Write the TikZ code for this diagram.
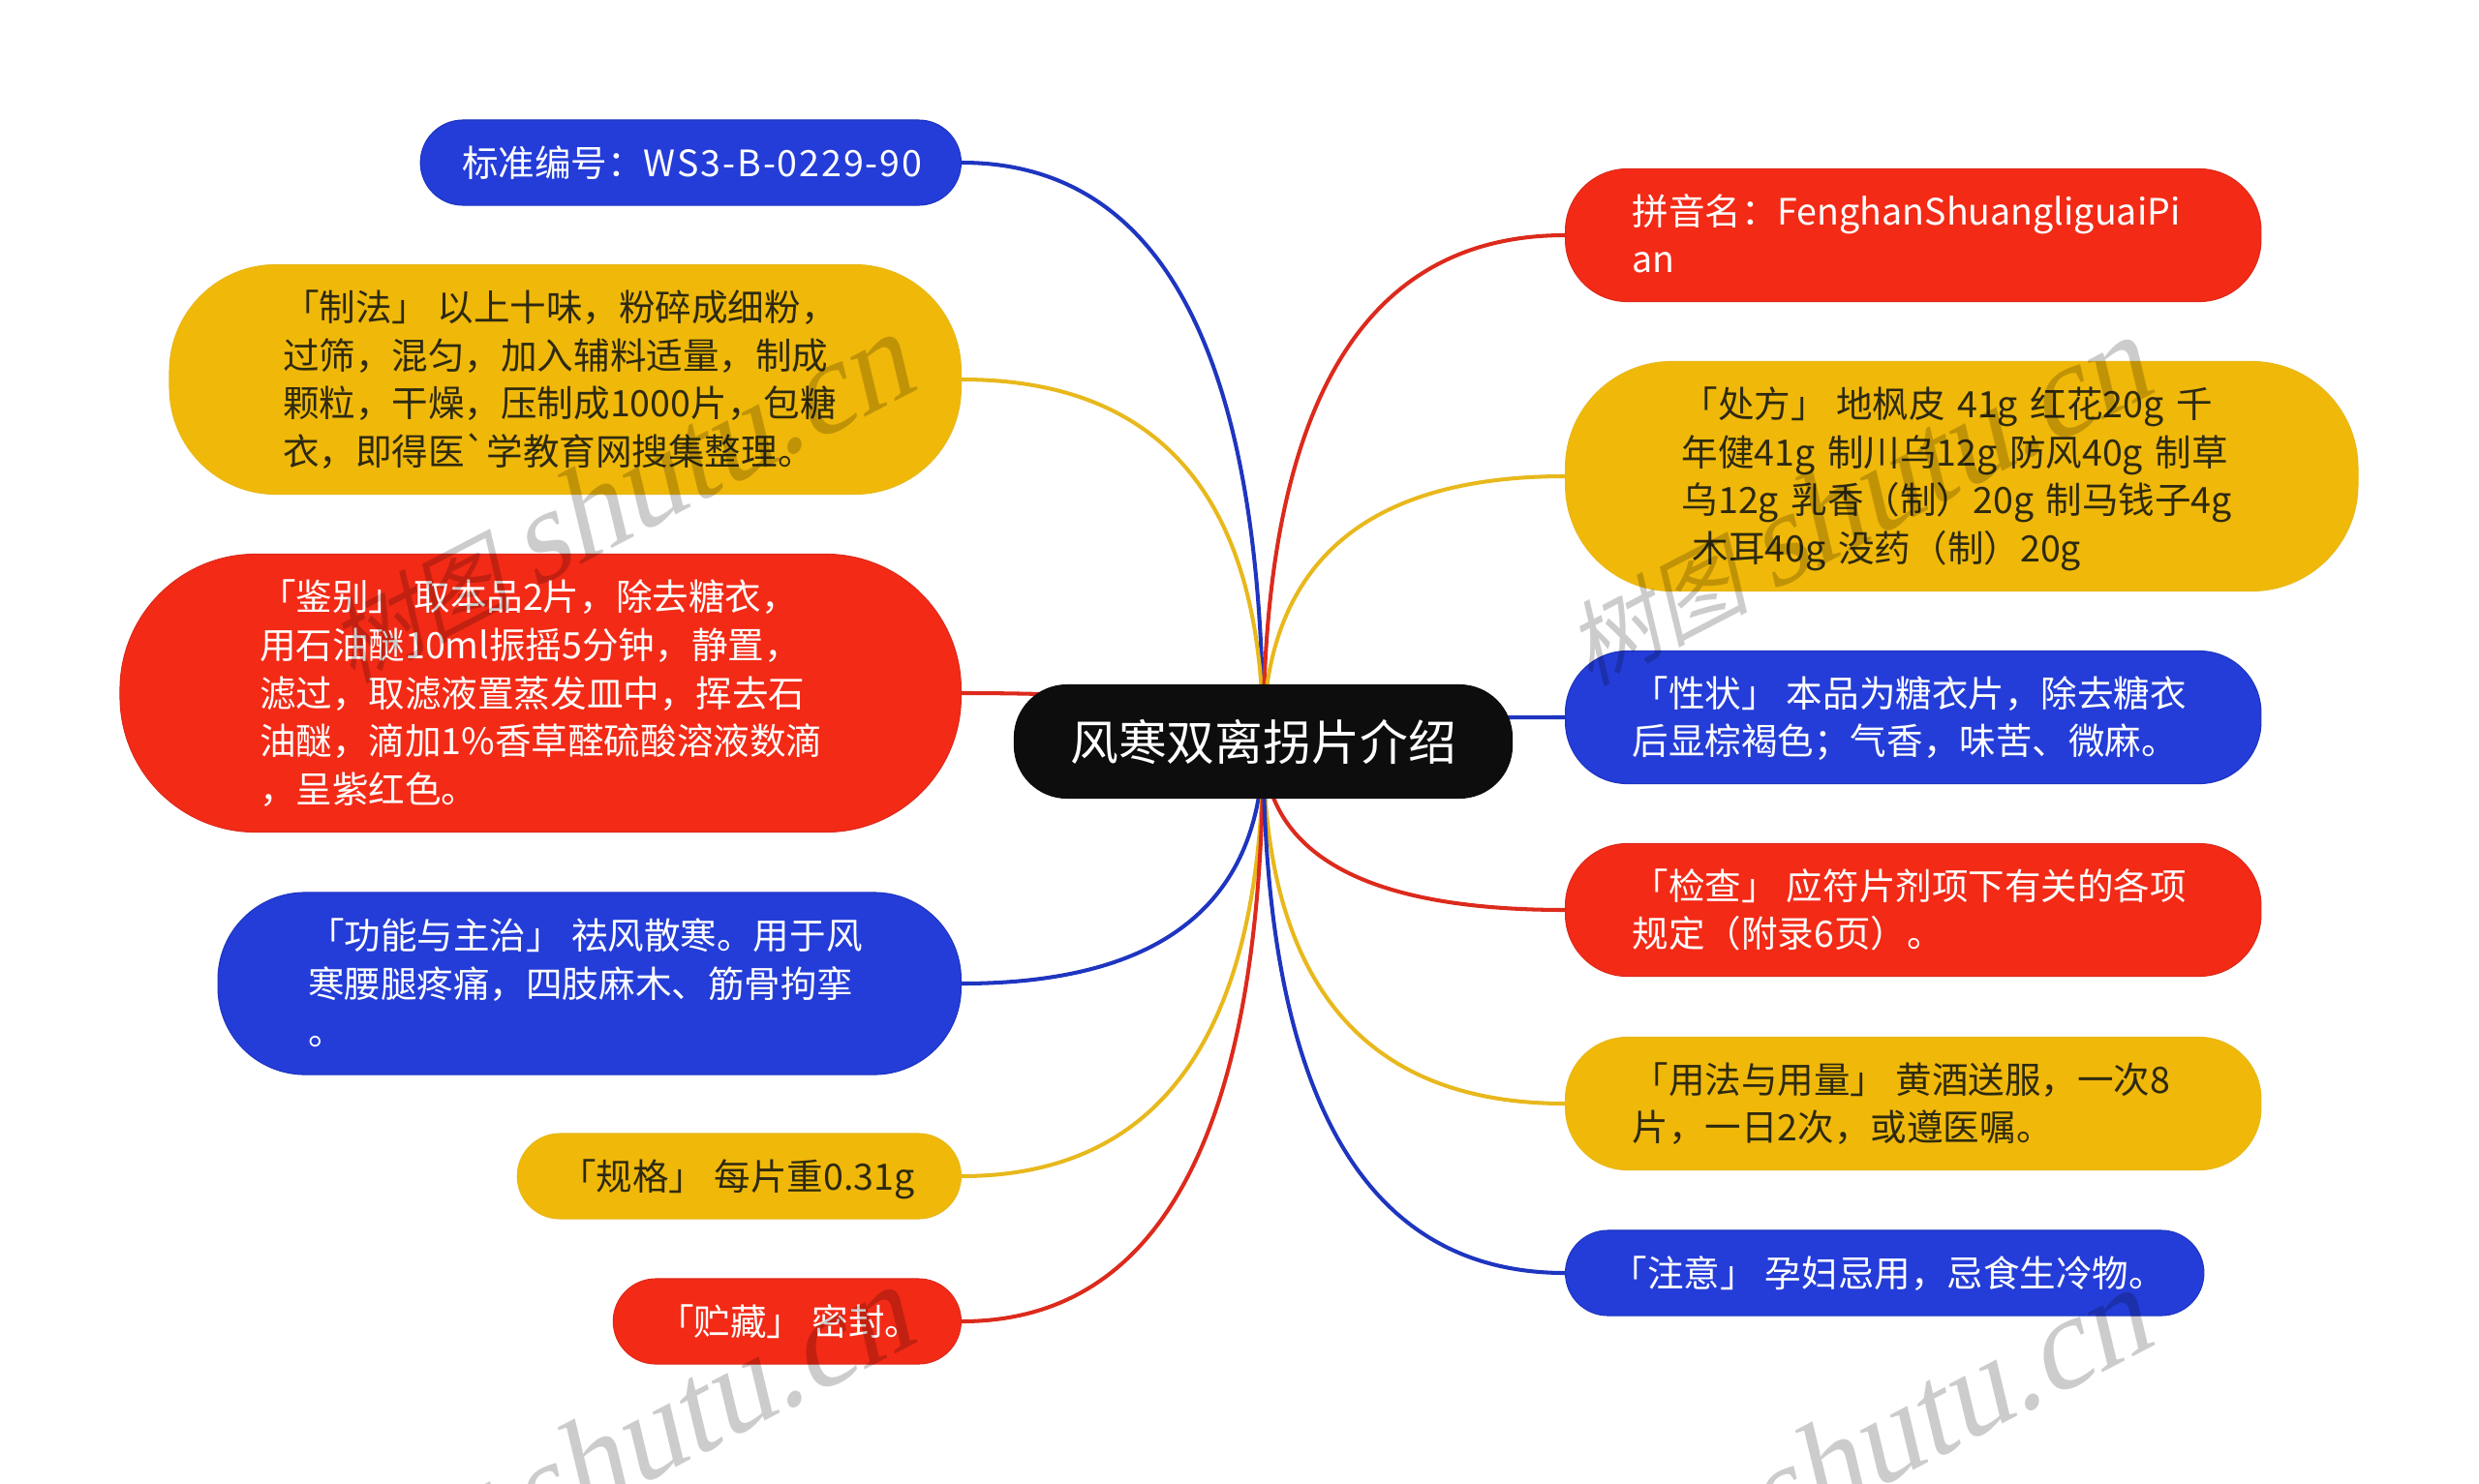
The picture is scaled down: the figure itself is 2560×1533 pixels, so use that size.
\documentclass[tikz,border=0pt]{standalone}
\usepackage{fontspec}
\setmainfont{Noto Sans CJK SC}[Ligatures=TeXOff]
\newfontfamily\markfont{Liberation Serif}
\usetikzlibrary{calc,backgrounds}
\definecolor{mapblue}{HTML}{243DD8}
\definecolor{mapred}{HTML}{F32A16}
\definecolor{mapyellow}{HTML}{F0B809}
\definecolor{mapblack}{HTML}{0D0D0D}
\definecolor{mapink}{HTML}{2E2A10}
\definecolor{lineblue}{HTML}{1E35C0}
\definecolor{linered}{HTML}{DC2A1C}
\definecolor{lineyellow}{HTML}{E8B81C}
\newcommand{\tagsep}{\hspace{0.245em}}
\newcommand{\linestrut}{\rule[-3.05pt]{0pt}{14.1pt}}
\tikzset{
  leaf/.style n args={4}{rounded corners=#3*1cm, minimum width=#1*1cm, minimum height=#2*1cm,
    inner xsep=#4*1cm, inner ysep=0pt, text width=(#1-2*#4)*1cm, align=left,
    font=\fontsize{10.68}{14.1}\selectfont,
    execute at begin node=\leavevmode\linestrut, execute at end node=\linestrut},
  blueleaf/.style={fill=mapblue, draw=lineblue, line width=0.3pt, text=white},
  redleaf/.style={fill=mapred, draw=linered, line width=0.3pt, text=white},
  yellowleaf/.style={fill=mapyellow, draw=lineyellow, line width=0.3pt, text=mapink},
  branch/.style={line width=1.15pt},
  markword/.style={text=black, text opacity=0.2, rotate=27.5, xslant=0.25, anchor=base east, inner sep=0pt}
}
\begin{document}
\begin{tikzpicture}[x=0.01cm,y=-0.01cm]
\useasboundingbox (0,0) rectangle (2560,1533);

% Center pill
\node[fill=mapblack, text=white, rounded corners=0.55cm, minimum width=5.15cm, minimum height=1.18cm,
  font=\fontsize{14.17}{17}\selectfont] (root) at (1304.5,766) {风寒双离拐片介绍};

% Left column
\node[leaf={5.58}{0.88}{0.44}{0.43}, blueleaf, anchor=east] (biaozhun) at (993,168)
  {\mbox{标准编号：\addfontfeature{LetterSpace=5}WS3-B-0229-90}};
\node[leaf={8.17}{2.37}{1.10}{1.17}, yellowleaf, anchor=east] (zhifa) at (993,392)
  {「制法」\tagsep 以上十味，粉碎成细粉，\\过筛，混匀，加入辅料适量，制成\\颗粒，干燥，压制成1000片，包糖\\衣，即得医`学教育网搜集整理。};
\node[leaf={8.68}{2.87}{1.40}{1.44}, redleaf, anchor=east] (jianbie) at (993,716)
  {「鉴别」\tagsep 取本品2片，除去糖衣，\\用石油醚10ml振摇5分钟，静置，\\滤过，取滤液置蒸发皿中，挥去石\\油醚，滴加1\%香草醛硫酸溶液数滴\\，呈紫红色。};
\node[leaf={7.67}{1.88}{0.90}{0.93}, blueleaf, anchor=east] (gongneng) at (993,1016)
  {「功能与主治」\tagsep 祛风散寒。用于风\\寒腰腿疼痛，四肢麻木、筋骨拘挛\\。};
\node[leaf={4.58}{0.88}{0.44}{0.44}, yellowleaf, anchor=east] (guige) at (993,1215)
  {\mbox{「规格」\tagsep 每片重0.31g}};
\node[leaf={3.59}{0.88}{0.44}{0.46}, redleaf, anchor=east] (zhucang) at (993,1365)
  {\mbox{「贮藏」\tagsep 密封。}};

% Right column
\node[leaf={7.18}{1.37}{0.64}{0.69}, redleaf, anchor=west] (pinyin) at (1616,243)
  {\mbox{拼音名：FenghanShuangliguaiPi}\\an};
\node[leaf={8.18}{2.37}{1.10}{1.20}, yellowleaf, anchor=west] (chufang) at (1616,492)
  {\mbox{「处方」\tagsep 地枫皮 41g 红花20g 千}\\\mbox{年健41g 制川乌12g 防风40g 制草}\\\mbox{乌12g 乳香（制）20g 制马钱子4g}\\\hspace*{0.3em}木耳40g 没药（制）20g};
\node[leaf={7.18}{1.37}{0.64}{0.69}, blueleaf, anchor=west] (xingzhuang) at (1616,741)
  {「性状」\tagsep 本品为糖衣片，除去糖衣\\后显棕褐色；气香，味苦、微麻。};
\node[leaf={7.18}{1.37}{0.64}{0.69}, redleaf, anchor=west] (jiancha) at (1616,940)
  {「检查」\tagsep 应符片剂项下有关的各项\\规定（附录6页）。};
\node[leaf={7.18}{1.37}{0.64}{0.69}, yellowleaf, anchor=west] (yongfa) at (1616,1140)
  {「用法与用量」\tagsep 黄酒送服，一次8\\片，一日2次，或遵医嘱。};
\node[leaf={6.59}{0.88}{0.44}{0.47}, blueleaf, anchor=west] (zhuyi) at (1616,1315)
  {\mbox{「注意」\tagsep 孕妇忌用，忌食生冷物。}};

% Branches behind the pills
\begin{scope}[on background layer]
\foreach \leafend/\tone in {biaozhun.east/lineblue,zhifa.east/lineyellow,jianbie.east/linered,
    gongneng.east/lineblue,guige.east/lineyellow,zhucang.east/linered,
    pinyin.west/linered,chufang.west/lineyellow,xingzhuang.west/lineblue,
    jiancha.west/linered,yongfa.west/lineyellow,zhuyi.west/lineblue} {
  \draw[branch,\tone] (root.center)
    .. controls ($(root.center)!2/3!(root.center |- \leafend)$) and ($(\leafend)!2/3!(root.center |- \leafend)$)
    .. (\leafend);
}
\end{scope}

% Watermark
\begin{scope}
\clip (0,0) rectangle (2560,1533);
\foreach \wx/\wy/\wi in {950/401/1,2228/404/2,950/1385/3,2228/1388/4} {
  \node[markword] (mark\wi) at (\wx,\wy)
    {\fontsize{27}{27}\selectfont 树图 \fontsize{38}{38}\markfont shutu.cn};
}
\end{scope}
\end{tikzpicture}
\end{document}
